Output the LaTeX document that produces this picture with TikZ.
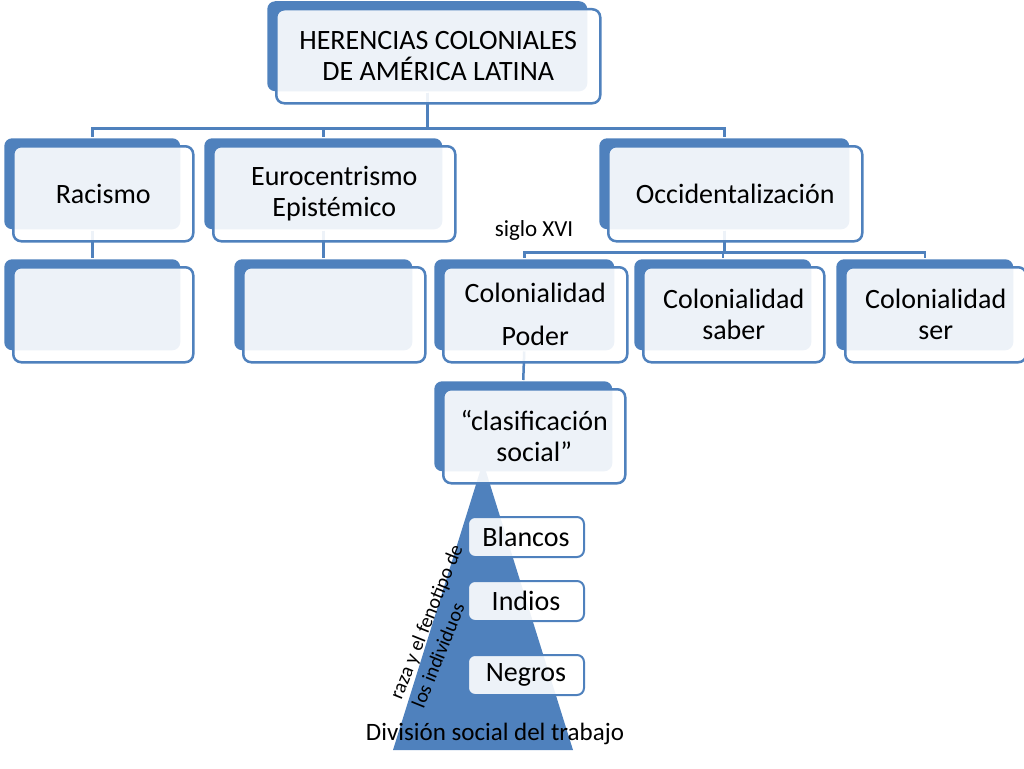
\documentclass[tikz,border=0pt]{standalone}
\usepackage{fontspec}
\setmainfont{Carlito}
\usetikzlibrary{calc,positioning}
\definecolor{azul}{RGB}{79,129,189}

\begin{document}
\begin{tikzpicture}[x=1pt,y=-1pt,line width=2.5pt]
    \tikzset{FondoStyle/.style = {fill=azul,
        rounded corners=8pt,
        anchor=north west,
        inner sep=0pt},
      CajaStyle/.style = {draw=azul,
        fill=white, fill opacity=0.9, text opacity=1,
        rounded corners=8pt,
        anchor=north west,
        inner sep=0pt,
        align=center,
        font=\fontsize{28}{31}\selectfont},
      LineaStyle/.style = {draw=azul},
      EtiquetaStyle/.style = {draw=azul, line width=2pt,
        fill=white, fill opacity=0.9, text opacity=1,
        rounded corners=7pt,
        minimum width=116pt, minimum height=40pt,
        inner sep=0pt,
        font=\fontsize{28}{31}\selectfont}}
    \useasboundingbox (0,0) rectangle (1024,768);

    \node[FondoStyle, minimum width=320pt, minimum height=90pt] (Her) at (266,0) {};

    \node[FondoStyle, minimum width=176pt, minimum height=91pt] (Rac) at (3,137) {};
    \node[FondoStyle, minimum width=238pt, minimum height=91pt] (Eur) at (203,137) {};
    \node[FondoStyle, minimum width=250pt, minimum height=91pt] (Occ) at (598,137) {};

    \node[FondoStyle, minimum width=176pt, minimum height=91pt] (RacH) at (3,258) {};
    \node[FondoStyle, minimum width=178pt, minimum height=91pt] (EurH) at (233,258) {};
    \node[FondoStyle, minimum width=180pt, minimum height=91pt] (Pod) at (433,258) {};
    \node[FondoStyle, minimum width=177pt, minimum height=91pt] (Sab) at (633,258) {};
    \node[FondoStyle, minimum width=177pt, minimum height=91pt] (Ser) at (835,258) {};

    \node[FondoStyle, minimum width=178pt, minimum height=90pt] (Cla) at (433,380) {};

    \draw[LineaStyle] (Her.south) -- ++(0,36) -| (Rac.north);
    \draw[LineaStyle] (Her.south) -- ++(0,36) -| (Eur.north);
    \draw[LineaStyle] (Her.south) -- ++(0,36) -| (Occ.north);
    \draw[LineaStyle] (Rac.south) -- (RacH.north);
    \draw[LineaStyle] (Eur.south) -- (EurH.north);
    \draw[LineaStyle] (Occ.south) -- ++(0,22) -| (Pod.north);
    \draw[LineaStyle] (Occ.south) -- ++(0,22) -| (Sab.north);
    \draw[LineaStyle] (Occ.south) -- ++(0,22) -| (Ser.north);
    \draw[LineaStyle] (Pod.south) -- (Cla.north);

    \coordinate (P0) at (483,462);
    \coordinate (P1) at (393,750);
    \coordinate (P2) at (573,750);
    \fill[azul] (P0) -- (P1) -- (P2) -- cycle;

    \node[CajaStyle, minimum width=324pt, minimum height=94pt] (HerT) at ($(Her.north west)+(9,8)$) {HERENCIAS COLONIALES\\DE AMÉRICA LATINA};

    \node[CajaStyle, minimum width=180pt, minimum height=95pt] (RacT) at ($(Rac.north west)+(9,8)$) {Racismo};
    \node[CajaStyle, minimum width=242pt, minimum height=95pt] (EurT) at ($(Eur.north west)+(9,8)$) {Eurocentrismo\\Epistémico};
    \node[CajaStyle, minimum width=254pt, minimum height=95pt] (OccT) at ($(Occ.north west)+(9,8)$) {Occidentalización};

    \node[CajaStyle, minimum width=180pt, minimum height=95pt] (RacHT) at ($(RacH.north west)+(9,8)$) {};
    \node[CajaStyle, minimum width=182pt, minimum height=95pt] (EurHT) at ($(EurH.north west)+(9,8)$) {};
    \node[CajaStyle, minimum width=184pt, minimum height=95pt] (PodT) at ($(Pod.north west)+(9,8)$) {Colonialidad\\[12pt]Poder};
    \node[CajaStyle, minimum width=181pt, minimum height=95pt] (SabT) at ($(Sab.north west)+(9,8)$) {Colonialidad\\saber};
    \node[CajaStyle, minimum width=181pt, minimum height=95pt] (SerT) at ($(Ser.north west)+(9,8)$) {Colonialidad\\ser};

    \node[CajaStyle, minimum width=182pt, minimum height=94pt] (ClaT) at ($(Cla.north west)+(9,8)$) {“clasificación\\social”};

    \node[font=\fontsize{23}{26}\selectfont] (Sig) at (534,230) {siglo XVI};

    \node[EtiquetaStyle] (Bla) at (526,537) {Blancos};
    \node[EtiquetaStyle] (Ind) at (526,601) {Indios};
    \node[EtiquetaStyle] (Neg) at (526,675) {Negros};

    \node[rotate=68, align=left, inner sep=0pt, font=\fontsize{20}{24}\selectfont] (Raza) at (437,626) {raza y el fenotipo de\\los individuos};
    \node[font=\fontsize{25}{28}\selectfont] (Div) at (495,734) {División social del trabajo};
\end{tikzpicture}
\end{document}
